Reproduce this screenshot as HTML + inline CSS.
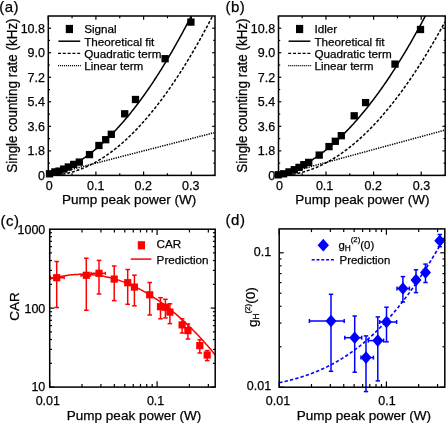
<!DOCTYPE html>
<html><head><meta charset="utf-8"><style>
html,body{margin:0;padding:0;background:#fff;}
svg{display:block;}
text{font-family:"Liberation Sans", sans-serif;fill:#000;stroke:#000;stroke-width:0.25px;}
</style></head><body>
<svg width="446" height="423" viewBox="0 0 446 423">
<defs><filter id="soft" x="-5%" y="-5%" width="110%" height="110%"><feGaussianBlur stdDeviation="0.25"/></filter></defs>
<rect x="0" y="0" width="446" height="423" fill="#fff"/>
<g filter="url(#soft)">
<clipPath id="clipA"><rect x="48.3" y="16.0" width="166.7" height="159.4"/></clipPath>
<path d="M48.20,175.40 L49.04,175.18 L49.88,174.97 L50.72,174.75 L51.56,174.54 L52.39,174.32 L53.23,174.11 L54.07,173.89 L54.91,173.67 L55.75,173.46 L56.59,173.24 L57.43,173.03 L58.27,172.81 L59.11,172.60 L59.95,172.38 L60.78,172.16 L61.62,171.95 L62.46,171.73 L63.30,171.52 L64.14,171.30 L64.98,171.08 L65.82,170.87 L66.66,170.65 L67.50,170.44 L68.33,170.22 L69.17,170.01 L70.01,169.79 L70.85,169.57 L71.69,169.36 L72.53,169.14 L73.37,168.93 L74.21,168.71 L75.05,168.50 L75.89,168.28 L76.72,168.06 L77.56,167.85 L78.40,167.63 L79.24,167.42 L80.08,167.20 L80.92,166.99 L81.76,166.77 L82.60,166.55 L83.44,166.34 L84.27,166.12 L85.11,165.91 L85.95,165.69 L86.79,165.48 L87.63,165.26 L88.47,165.04 L89.31,164.83 L90.15,164.61 L90.99,164.40 L91.83,164.18 L92.66,163.97 L93.50,163.75 L94.34,163.53 L95.18,163.32 L96.02,163.10 L96.86,162.89 L97.70,162.67 L98.54,162.45 L99.38,162.24 L100.21,162.02 L101.05,161.81 L101.89,161.59 L102.73,161.38 L103.57,161.16 L104.41,160.94 L105.25,160.73 L106.09,160.51 L106.93,160.30 L107.77,160.08 L108.60,159.87 L109.44,159.65 L110.28,159.43 L111.12,159.22 L111.96,159.00 L112.80,158.79 L113.64,158.57 L114.48,158.36 L115.32,158.14 L116.15,157.92 L116.99,157.71 L117.83,157.49 L118.67,157.28 L119.51,157.06 L120.35,156.85 L121.19,156.63 L122.03,156.41 L122.87,156.20 L123.71,155.98 L124.54,155.77 L125.38,155.55 L126.22,155.34 L127.06,155.12 L127.90,154.90 L128.74,154.69 L129.58,154.47 L130.42,154.26 L131.26,154.04 L132.09,153.82 L132.93,153.61 L133.77,153.39 L134.61,153.18 L135.45,152.96 L136.29,152.75 L137.13,152.53 L137.97,152.31 L138.81,152.10 L139.64,151.88 L140.48,151.67 L141.32,151.45 L142.16,151.24 L143.00,151.02 L143.84,150.80 L144.68,150.59 L145.52,150.37 L146.36,150.16 L147.20,149.94 L148.03,149.73 L148.87,149.51 L149.71,149.29 L150.55,149.08 L151.39,148.86 L152.23,148.65 L153.07,148.43 L153.91,148.22 L154.75,148.00 L155.58,147.78 L156.42,147.57 L157.26,147.35 L158.10,147.14 L158.94,146.92 L159.78,146.71 L160.62,146.49 L161.46,146.27 L162.30,146.06 L163.14,145.84 L163.97,145.63 L164.81,145.41 L165.65,145.19 L166.49,144.98 L167.33,144.76 L168.17,144.55 L169.01,144.33 L169.85,144.12 L170.69,143.90 L171.52,143.68 L172.36,143.47 L173.20,143.25 L174.04,143.04 L174.88,142.82 L175.72,142.61 L176.56,142.39 L177.40,142.17 L178.24,141.96 L179.08,141.74 L179.91,141.53 L180.75,141.31 L181.59,141.10 L182.43,140.88 L183.27,140.66 L184.11,140.45 L184.95,140.23 L185.79,140.02 L186.63,139.80 L187.46,139.59 L188.30,139.37 L189.14,139.15 L189.98,138.94 L190.82,138.72 L191.66,138.51 L192.50,138.29 L193.34,138.08 L194.18,137.86 L195.02,137.64 L195.85,137.43 L196.69,137.21 L197.53,137.00 L198.37,136.78 L199.21,136.56 L200.05,136.35 L200.89,136.13 L201.73,135.92 L202.57,135.70 L203.40,135.49 L204.24,135.27 L205.08,135.05 L205.92,134.84 L206.76,134.62 L207.60,134.41 L208.44,134.19 L209.28,133.98 L210.12,133.76 L210.96,133.54 L211.79,133.33 L212.63,133.11 L213.47,132.90 L214.31,132.68 L215.15,132.47" fill="none" stroke="#000" stroke-width="1.5" stroke-dasharray="1.3 1.1" clip-path="url(#clipA)"/>
<path d="M48.20,175.40 L49.04,175.40 L49.88,175.38 L50.72,175.36 L51.56,175.33 L52.39,175.30 L53.23,175.25 L54.07,175.20 L54.91,175.13 L55.75,175.06 L56.59,174.98 L57.43,174.90 L58.27,174.80 L59.11,174.70 L59.95,174.59 L60.78,174.47 L61.62,174.34 L62.46,174.20 L63.30,174.05 L64.14,173.90 L64.98,173.74 L65.82,173.57 L66.66,173.39 L67.50,173.20 L68.33,173.01 L69.17,172.80 L70.01,172.59 L70.85,172.37 L71.69,172.14 L72.53,171.91 L73.37,171.66 L74.21,171.41 L75.05,171.15 L75.89,170.88 L76.72,170.60 L77.56,170.31 L78.40,170.02 L79.24,169.71 L80.08,169.40 L80.92,169.08 L81.76,168.76 L82.60,168.42 L83.44,168.07 L84.27,167.72 L85.11,167.36 L85.95,166.99 L86.79,166.61 L87.63,166.23 L88.47,165.83 L89.31,165.43 L90.15,165.02 L90.99,164.60 L91.83,164.17 L92.66,163.73 L93.50,163.29 L94.34,162.84 L95.18,162.38 L96.02,161.91 L96.86,161.43 L97.70,160.94 L98.54,160.45 L99.38,159.95 L100.21,159.44 L101.05,158.92 L101.89,158.39 L102.73,157.85 L103.57,157.31 L104.41,156.76 L105.25,156.20 L106.09,155.63 L106.93,155.05 L107.77,154.46 L108.60,153.87 L109.44,153.27 L110.28,152.66 L111.12,152.04 L111.96,151.41 L112.80,150.78 L113.64,150.13 L114.48,149.48 L115.32,148.82 L116.15,148.15 L116.99,147.48 L117.83,146.79 L118.67,146.10 L119.51,145.39 L120.35,144.68 L121.19,143.97 L122.03,143.24 L122.87,142.50 L123.71,141.76 L124.54,141.01 L125.38,140.25 L126.22,139.48 L127.06,138.70 L127.90,137.92 L128.74,137.13 L129.58,136.32 L130.42,135.51 L131.26,134.70 L132.09,133.87 L132.93,133.04 L133.77,132.19 L134.61,131.34 L135.45,130.48 L136.29,129.61 L137.13,128.74 L137.97,127.85 L138.81,126.96 L139.64,126.06 L140.48,125.15 L141.32,124.23 L142.16,123.30 L143.00,122.37 L143.84,121.43 L144.68,120.48 L145.52,119.52 L146.36,118.55 L147.20,117.57 L148.03,116.59 L148.87,115.60 L149.71,114.60 L150.55,113.59 L151.39,112.57 L152.23,111.54 L153.07,110.51 L153.91,109.47 L154.75,108.42 L155.58,107.36 L156.42,106.29 L157.26,105.21 L158.10,104.13 L158.94,103.04 L159.78,101.94 L160.62,100.83 L161.46,99.71 L162.30,98.59 L163.14,97.45 L163.97,96.31 L164.81,95.16 L165.65,94.00 L166.49,92.83 L167.33,91.66 L168.17,90.48 L169.01,89.28 L169.85,88.08 L170.69,86.87 L171.52,85.66 L172.36,84.43 L173.20,83.20 L174.04,81.96 L174.88,80.71 L175.72,79.45 L176.56,78.18 L177.40,76.91 L178.24,75.62 L179.08,74.33 L179.91,73.03 L180.75,71.72 L181.59,70.41 L182.43,69.08 L183.27,67.75 L184.11,66.41 L184.95,65.06 L185.79,63.70 L186.63,62.33 L187.46,60.96 L188.30,59.58 L189.14,58.19 L189.98,56.79 L190.82,55.38 L191.66,53.96 L192.50,52.54 L193.34,51.10 L194.18,49.66 L195.02,48.21 L195.85,46.76 L196.69,45.29 L197.53,43.82 L198.37,42.33 L199.21,40.84 L200.05,39.34 L200.89,37.84 L201.73,36.32 L202.57,34.80 L203.40,33.26 L204.24,31.72 L205.08,30.17 L205.92,28.62 L206.76,27.05 L207.60,25.48 L208.44,23.89 L209.28,22.30 L210.12,20.70 L210.96,19.10 L211.79,17.48 L212.63,15.86 L213.47,14.23 L214.31,12.59 L215.15,10.94" fill="none" stroke="#000" stroke-width="1.5" stroke-dasharray="3 1.8" clip-path="url(#clipA)"/>
<path d="M48.20,175.40 L49.04,175.17 L49.88,174.92 L50.72,174.67 L51.56,174.41 L52.39,174.15 L53.23,173.87 L54.07,173.59 L54.91,173.29 L55.75,172.99 L56.59,172.69 L57.43,172.37 L58.27,172.04 L59.11,171.71 L59.95,171.37 L60.78,171.02 L61.62,170.66 L62.46,170.29 L63.30,169.92 L64.14,169.54 L64.98,169.14 L65.82,168.74 L66.66,168.34 L67.50,167.92 L68.33,167.50 L69.17,167.06 L70.01,166.62 L70.85,166.17 L71.69,165.72 L72.53,165.25 L73.37,164.78 L74.21,164.30 L75.05,163.80 L75.89,163.31 L76.72,162.80 L77.56,162.28 L78.40,161.76 L79.24,161.23 L80.08,160.69 L80.92,160.14 L81.76,159.58 L82.60,159.02 L83.44,158.45 L84.27,157.86 L85.11,157.27 L85.95,156.68 L86.79,156.07 L87.63,155.46 L88.47,154.83 L89.31,154.20 L90.15,153.56 L90.99,152.92 L91.83,152.26 L92.66,151.60 L93.50,150.92 L94.34,150.24 L95.18,149.55 L96.02,148.86 L96.86,148.15 L97.70,147.44 L98.54,146.72 L99.38,145.99 L100.21,145.25 L101.05,144.50 L101.89,143.75 L102.73,142.98 L103.57,142.21 L104.41,141.43 L105.25,140.64 L106.09,139.85 L106.93,139.04 L107.77,138.23 L108.60,137.41 L109.44,136.58 L110.28,135.74 L111.12,134.90 L111.96,134.04 L112.80,133.18 L113.64,132.31 L114.48,131.43 L115.32,130.54 L116.15,129.65 L116.99,128.75 L117.83,127.83 L118.67,126.91 L119.51,125.99 L120.35,125.05 L121.19,124.10 L122.03,123.15 L122.87,122.19 L123.71,121.22 L124.54,120.24 L125.38,119.26 L126.22,118.26 L127.06,117.26 L127.90,116.25 L128.74,115.23 L129.58,114.20 L130.42,113.16 L131.26,112.12 L132.09,111.07 L132.93,110.01 L133.77,108.94 L134.61,107.86 L135.45,106.78 L136.29,105.68 L137.13,104.58 L137.97,103.47 L138.81,102.35 L139.64,101.22 L140.48,100.09 L141.32,98.95 L142.16,97.79 L143.00,96.63 L143.84,95.47 L144.68,94.29 L145.52,93.11 L146.36,91.91 L147.20,90.71 L148.03,89.50 L148.87,88.28 L149.71,87.06 L150.55,85.82 L151.39,84.58 L152.23,83.33 L153.07,82.07 L153.91,80.80 L154.75,79.53 L155.58,78.25 L156.42,76.95 L157.26,75.65 L158.10,74.34 L158.94,73.03 L159.78,71.70 L160.62,70.37 L161.46,69.03 L162.30,67.68 L163.14,66.32 L163.97,64.95 L164.81,63.58 L165.65,62.20 L166.49,60.80 L167.33,59.40 L168.17,58.00 L169.01,56.58 L169.85,55.16 L170.69,53.72 L171.52,52.28 L172.36,50.83 L173.20,49.38 L174.04,47.91 L174.88,46.44 L175.72,44.96 L176.56,43.47 L177.40,41.97 L178.24,40.46 L179.08,38.94 L179.91,37.42 L180.75,35.89 L181.59,34.35 L182.43,32.80 L183.27,31.24 L184.11,29.68 L184.95,28.11 L185.79,26.53 L186.63,24.94 L187.46,23.34 L188.30,21.73 L189.14,20.12 L189.98,18.50 L190.82,16.86 L191.66,15.23 L192.50,13.58 L193.34,11.92 L194.18,10.26 L195.02,8.59 L195.85,6.91 L196.69,5.22 L197.53,3.52 L198.37,1.82 L199.21,0.10 L200.05,-1.62 L200.89,-3.35 L201.73,-5.09 L202.57,-6.84 L203.40,-8.59 L204.24,-10.35 L205.08,-12.12 L205.92,-13.90 L206.76,-15.69 L207.60,-17.49 L208.44,-19.29 L209.28,-21.10 L210.12,-22.93 L210.96,-24.76 L211.79,-26.59 L212.63,-28.44 L213.47,-30.29 L214.31,-32.15 L215.15,-34.02" fill="none" stroke="#000" stroke-width="1.5"  clip-path="url(#clipA)"/>
<rect x="48.3" y="16.0" width="166.7" height="159.4" fill="none" stroke="#000" stroke-width="1.5"/>
<line x1="48.20" y1="175.40" x2="48.20" y2="171.60" stroke="#000" stroke-width="1.2" />
<line x1="48.20" y1="16.00" x2="48.20" y2="19.80" stroke="#000" stroke-width="1.2" />
<text x="49.30" y="190.40" font-size="12.5" text-anchor="middle" >0</text>
<line x1="72.05" y1="175.40" x2="72.05" y2="173.20" stroke="#000" stroke-width="1.2" />
<line x1="72.05" y1="16.00" x2="72.05" y2="18.20" stroke="#000" stroke-width="1.2" />
<line x1="95.90" y1="175.40" x2="95.90" y2="171.60" stroke="#000" stroke-width="1.2" />
<line x1="95.90" y1="16.00" x2="95.90" y2="19.80" stroke="#000" stroke-width="1.2" />
<text x="95.80" y="190.40" font-size="12.5" text-anchor="middle" >0.1</text>
<line x1="119.75" y1="175.40" x2="119.75" y2="173.20" stroke="#000" stroke-width="1.2" />
<line x1="119.75" y1="16.00" x2="119.75" y2="18.20" stroke="#000" stroke-width="1.2" />
<line x1="143.60" y1="175.40" x2="143.60" y2="171.60" stroke="#000" stroke-width="1.2" />
<line x1="143.60" y1="16.00" x2="143.60" y2="19.80" stroke="#000" stroke-width="1.2" />
<text x="143.30" y="190.40" font-size="12.5" text-anchor="middle" >0.2</text>
<line x1="167.45" y1="175.40" x2="167.45" y2="173.20" stroke="#000" stroke-width="1.2" />
<line x1="167.45" y1="16.00" x2="167.45" y2="18.20" stroke="#000" stroke-width="1.2" />
<line x1="191.30" y1="175.40" x2="191.30" y2="171.60" stroke="#000" stroke-width="1.2" />
<line x1="191.30" y1="16.00" x2="191.30" y2="19.80" stroke="#000" stroke-width="1.2" />
<text x="190.80" y="190.40" font-size="12.5" text-anchor="middle" >0.3</text>
<line x1="48.30" y1="175.40" x2="51.10" y2="175.40" stroke="#000" stroke-width="1.2" />
<line x1="215.00" y1="175.40" x2="212.20" y2="175.40" stroke="#000" stroke-width="1.2" />
<text x="45.00" y="179.70" font-size="12.5" text-anchor="end" >0</text>
<line x1="48.30" y1="163.13" x2="50.00" y2="163.13" stroke="#000" stroke-width="1.2" />
<line x1="215.00" y1="163.13" x2="213.30" y2="163.13" stroke="#000" stroke-width="1.2" />
<line x1="48.30" y1="150.87" x2="51.10" y2="150.87" stroke="#000" stroke-width="1.2" />
<line x1="215.00" y1="150.87" x2="212.20" y2="150.87" stroke="#000" stroke-width="1.2" />
<text x="45.00" y="155.17" font-size="12.5" text-anchor="end" >1.8</text>
<line x1="48.30" y1="138.60" x2="50.00" y2="138.60" stroke="#000" stroke-width="1.2" />
<line x1="215.00" y1="138.60" x2="213.30" y2="138.60" stroke="#000" stroke-width="1.2" />
<line x1="48.30" y1="126.33" x2="51.10" y2="126.33" stroke="#000" stroke-width="1.2" />
<line x1="215.00" y1="126.33" x2="212.20" y2="126.33" stroke="#000" stroke-width="1.2" />
<text x="45.00" y="130.63" font-size="12.5" text-anchor="end" >3.6</text>
<line x1="48.30" y1="114.06" x2="50.00" y2="114.06" stroke="#000" stroke-width="1.2" />
<line x1="215.00" y1="114.06" x2="213.30" y2="114.06" stroke="#000" stroke-width="1.2" />
<line x1="48.30" y1="101.80" x2="51.10" y2="101.80" stroke="#000" stroke-width="1.2" />
<line x1="215.00" y1="101.80" x2="212.20" y2="101.80" stroke="#000" stroke-width="1.2" />
<text x="45.00" y="106.10" font-size="12.5" text-anchor="end" >5.4</text>
<line x1="48.30" y1="89.53" x2="50.00" y2="89.53" stroke="#000" stroke-width="1.2" />
<line x1="215.00" y1="89.53" x2="213.30" y2="89.53" stroke="#000" stroke-width="1.2" />
<line x1="48.30" y1="77.26" x2="51.10" y2="77.26" stroke="#000" stroke-width="1.2" />
<line x1="215.00" y1="77.26" x2="212.20" y2="77.26" stroke="#000" stroke-width="1.2" />
<text x="45.00" y="81.56" font-size="12.5" text-anchor="end" >7.2</text>
<line x1="48.30" y1="65.00" x2="50.00" y2="65.00" stroke="#000" stroke-width="1.2" />
<line x1="215.00" y1="65.00" x2="213.30" y2="65.00" stroke="#000" stroke-width="1.2" />
<line x1="48.30" y1="52.73" x2="51.10" y2="52.73" stroke="#000" stroke-width="1.2" />
<line x1="215.00" y1="52.73" x2="212.20" y2="52.73" stroke="#000" stroke-width="1.2" />
<text x="45.00" y="57.03" font-size="12.5" text-anchor="end" >9.0</text>
<line x1="48.30" y1="40.46" x2="50.00" y2="40.46" stroke="#000" stroke-width="1.2" />
<line x1="215.00" y1="40.46" x2="213.30" y2="40.46" stroke="#000" stroke-width="1.2" />
<line x1="48.30" y1="28.20" x2="51.10" y2="28.20" stroke="#000" stroke-width="1.2" />
<line x1="215.00" y1="28.20" x2="212.20" y2="28.20" stroke="#000" stroke-width="1.2" />
<text x="45.00" y="32.50" font-size="12.5" text-anchor="end" >10.8</text>
<rect x="187.25" y="18.45" width="7.3" height="7.3" fill="#000"/>
<rect x="161.45" y="55.05" width="7.3" height="7.3" fill="#000"/>
<rect x="131.85" y="95.85" width="7.3" height="7.3" fill="#000"/>
<rect x="121.05" y="110.15" width="7.3" height="7.3" fill="#000"/>
<rect x="107.65" y="130.65" width="7.3" height="7.3" fill="#000"/>
<rect x="102.05" y="136.05" width="7.3" height="7.3" fill="#000"/>
<rect x="95.25" y="141.85" width="7.3" height="7.3" fill="#000"/>
<rect x="85.85" y="150.95" width="7.3" height="7.3" fill="#000"/>
<rect x="75.65" y="158.45" width="7.3" height="7.3" fill="#000"/>
<rect x="70.05" y="160.75" width="7.3" height="7.3" fill="#000"/>
<rect x="64.65" y="163.35" width="7.3" height="7.3" fill="#000"/>
<rect x="60.05" y="165.45" width="7.3" height="7.3" fill="#000"/>
<rect x="55.35" y="167.45" width="7.3" height="7.3" fill="#000"/>
<rect x="51.25" y="168.25" width="7.3" height="7.3" fill="#000"/>
<rect x="45.85" y="170.15" width="7.3" height="7.3" fill="#000"/>
<rect x="65.80" y="24.9" width="7.2" height="8.2" fill="#000"/>
<line x1="58.40" y1="41.20" x2="80.20" y2="41.20" stroke="#000" stroke-width="1.5" />
<line x1="58.00" y1="53.40" x2="80.60" y2="53.40" stroke="#000" stroke-width="1.4" stroke-dasharray="3 1.8"/>
<line x1="58.00" y1="65.60" x2="80.90" y2="65.60" stroke="#000" stroke-width="1.4" stroke-dasharray="1.1 0.9"/>
<text x="84.20" y="32.90" font-size="11.7" text-anchor="start" >Signal</text>
<text x="84.20" y="45.50" font-size="11.7" text-anchor="start" >Theoretical fit</text>
<text x="84.20" y="57.60" font-size="11.7" text-anchor="start" >Quadratic term</text>
<text x="84.20" y="69.60" font-size="11.7" text-anchor="start" >Linear term</text>
<text x="129.20" y="204.30" font-size="13.5" text-anchor="middle" >Pump peak power (W)</text>
<text x="0" y="0" font-size="13.5" text-anchor="middle" transform="translate(16.60,95.60) rotate(-90)" textLength="154.3" lengthAdjust="spacingAndGlyphs" style="font-size:14.3px">Single counting rate (kHz)</text>
<clipPath id="clipB"><rect x="278.5" y="16.0" width="166.7" height="159.4"/></clipPath>
<path d="M278.40,175.40 L279.24,175.17 L280.07,174.94 L280.91,174.72 L281.75,174.49 L282.59,174.26 L283.42,174.03 L284.26,173.81 L285.10,173.58 L285.93,173.35 L286.77,173.12 L287.61,172.89 L288.45,172.67 L289.28,172.44 L290.12,172.21 L290.96,171.98 L291.79,171.76 L292.63,171.53 L293.47,171.30 L294.31,171.07 L295.14,170.85 L295.98,170.62 L296.82,170.39 L297.66,170.16 L298.49,169.93 L299.33,169.71 L300.17,169.48 L301.00,169.25 L301.84,169.02 L302.68,168.80 L303.52,168.57 L304.35,168.34 L305.19,168.11 L306.03,167.88 L306.86,167.66 L307.70,167.43 L308.54,167.20 L309.38,166.97 L310.21,166.75 L311.05,166.52 L311.89,166.29 L312.72,166.06 L313.56,165.84 L314.40,165.61 L315.24,165.38 L316.07,165.15 L316.91,164.92 L317.75,164.70 L318.58,164.47 L319.42,164.24 L320.26,164.01 L321.10,163.79 L321.93,163.56 L322.77,163.33 L323.61,163.10 L324.45,162.87 L325.28,162.65 L326.12,162.42 L326.96,162.19 L327.79,161.96 L328.63,161.74 L329.47,161.51 L330.31,161.28 L331.14,161.05 L331.98,160.82 L332.82,160.60 L333.65,160.37 L334.49,160.14 L335.33,159.91 L336.17,159.69 L337.00,159.46 L337.84,159.23 L338.68,159.00 L339.51,158.78 L340.35,158.55 L341.19,158.32 L342.03,158.09 L342.86,157.86 L343.70,157.64 L344.54,157.41 L345.37,157.18 L346.21,156.95 L347.05,156.73 L347.89,156.50 L348.72,156.27 L349.56,156.04 L350.40,155.81 L351.24,155.59 L352.07,155.36 L352.91,155.13 L353.75,154.90 L354.58,154.68 L355.42,154.45 L356.26,154.22 L357.10,153.99 L357.93,153.76 L358.77,153.54 L359.61,153.31 L360.44,153.08 L361.28,152.85 L362.12,152.63 L362.96,152.40 L363.79,152.17 L364.63,151.94 L365.47,151.72 L366.30,151.49 L367.14,151.26 L367.98,151.03 L368.82,150.80 L369.65,150.58 L370.49,150.35 L371.33,150.12 L372.16,149.89 L373.00,149.67 L373.84,149.44 L374.68,149.21 L375.51,148.98 L376.35,148.75 L377.19,148.53 L378.03,148.30 L378.86,148.07 L379.70,147.84 L380.54,147.62 L381.37,147.39 L382.21,147.16 L383.05,146.93 L383.89,146.71 L384.72,146.48 L385.56,146.25 L386.40,146.02 L387.23,145.79 L388.07,145.57 L388.91,145.34 L389.75,145.11 L390.58,144.88 L391.42,144.66 L392.26,144.43 L393.09,144.20 L393.93,143.97 L394.77,143.74 L395.61,143.52 L396.44,143.29 L397.28,143.06 L398.12,142.83 L398.95,142.61 L399.79,142.38 L400.63,142.15 L401.47,141.92 L402.30,141.69 L403.14,141.47 L403.98,141.24 L404.82,141.01 L405.65,140.78 L406.49,140.56 L407.33,140.33 L408.16,140.10 L409.00,139.87 L409.84,139.65 L410.68,139.42 L411.51,139.19 L412.35,138.96 L413.19,138.73 L414.02,138.51 L414.86,138.28 L415.70,138.05 L416.54,137.82 L417.37,137.60 L418.21,137.37 L419.05,137.14 L419.88,136.91 L420.72,136.68 L421.56,136.46 L422.40,136.23 L423.23,136.00 L424.07,135.77 L424.91,135.55 L425.74,135.32 L426.58,135.09 L427.42,134.86 L428.26,134.63 L429.09,134.41 L429.93,134.18 L430.77,133.95 L431.61,133.72 L432.44,133.50 L433.28,133.27 L434.12,133.04 L434.95,132.81 L435.79,132.59 L436.63,132.36 L437.47,132.13 L438.30,131.90 L439.14,131.67 L439.98,131.45 L440.81,131.22 L441.65,130.99 L442.49,130.76 L443.33,130.54 L444.16,130.31 L445.00,130.08" fill="none" stroke="#000" stroke-width="1.5" stroke-dasharray="1.3 1.1" clip-path="url(#clipB)"/>
<path d="M278.40,175.40 L279.24,175.40 L280.07,175.38 L280.91,175.37 L281.75,175.34 L282.59,175.30 L283.42,175.26 L284.26,175.21 L285.10,175.15 L285.93,175.09 L286.77,175.01 L287.61,174.93 L288.45,174.84 L289.28,174.74 L290.12,174.64 L290.96,174.53 L291.79,174.41 L292.63,174.28 L293.47,174.14 L294.31,174.00 L295.14,173.85 L295.98,173.69 L296.82,173.52 L297.66,173.35 L298.49,173.17 L299.33,172.98 L300.17,172.78 L301.00,172.57 L301.84,172.36 L302.68,172.14 L303.52,171.91 L304.35,171.67 L305.19,171.43 L306.03,171.18 L306.86,170.92 L307.70,170.65 L308.54,170.37 L309.38,170.09 L310.21,169.80 L311.05,169.50 L311.89,169.19 L312.72,168.88 L313.56,168.56 L314.40,168.23 L315.24,167.89 L316.07,167.55 L316.91,167.19 L317.75,166.83 L318.58,166.46 L319.42,166.09 L320.26,165.70 L321.10,165.31 L321.93,164.91 L322.77,164.50 L323.61,164.09 L324.45,163.67 L325.28,163.24 L326.12,162.80 L326.96,162.35 L327.79,161.90 L328.63,161.44 L329.47,160.97 L330.31,160.49 L331.14,160.00 L331.98,159.51 L332.82,159.01 L333.65,158.50 L334.49,157.99 L335.33,157.46 L336.17,156.93 L337.00,156.39 L337.84,155.85 L338.68,155.29 L339.51,154.73 L340.35,154.16 L341.19,153.58 L342.03,153.00 L342.86,152.40 L343.70,151.80 L344.54,151.19 L345.37,150.57 L346.21,149.95 L347.05,149.32 L347.89,148.68 L348.72,148.03 L349.56,147.37 L350.40,146.71 L351.24,146.04 L352.07,145.36 L352.91,144.67 L353.75,143.98 L354.58,143.28 L355.42,142.57 L356.26,141.85 L357.10,141.13 L357.93,140.39 L358.77,139.65 L359.61,138.90 L360.44,138.15 L361.28,137.38 L362.12,136.61 L362.96,135.83 L363.79,135.04 L364.63,134.25 L365.47,133.45 L366.30,132.63 L367.14,131.82 L367.98,130.99 L368.82,130.16 L369.65,129.31 L370.49,128.46 L371.33,127.61 L372.16,126.74 L373.00,125.87 L373.84,124.99 L374.68,124.10 L375.51,123.20 L376.35,122.30 L377.19,121.39 L378.03,120.47 L378.86,119.54 L379.70,118.61 L380.54,117.67 L381.37,116.72 L382.21,115.76 L383.05,114.79 L383.89,113.82 L384.72,112.84 L385.56,111.85 L386.40,110.85 L387.23,109.85 L388.07,108.83 L388.91,107.81 L389.75,106.79 L390.58,105.75 L391.42,104.71 L392.26,103.66 L393.09,102.60 L393.93,101.53 L394.77,100.45 L395.61,99.37 L396.44,98.28 L397.28,97.18 L398.12,96.08 L398.95,94.97 L399.79,93.85 L400.63,92.72 L401.47,91.58 L402.30,90.44 L403.14,89.28 L403.98,88.12 L404.82,86.96 L405.65,85.78 L406.49,84.60 L407.33,83.41 L408.16,82.21 L409.00,81.00 L409.84,79.79 L410.68,78.57 L411.51,77.34 L412.35,76.10 L413.19,74.85 L414.02,73.60 L414.86,72.34 L415.70,71.07 L416.54,69.80 L417.37,68.51 L418.21,67.22 L419.05,65.92 L419.88,64.61 L420.72,63.30 L421.56,61.98 L422.40,60.65 L423.23,59.31 L424.07,57.96 L424.91,56.61 L425.74,55.25 L426.58,53.88 L427.42,52.50 L428.26,51.11 L429.09,49.72 L429.93,48.32 L430.77,46.91 L431.61,45.50 L432.44,44.07 L433.28,42.64 L434.12,41.20 L434.95,39.76 L435.79,38.30 L436.63,36.84 L437.47,35.37 L438.30,33.89 L439.14,32.41 L439.98,30.91 L440.81,29.41 L441.65,27.90 L442.49,26.39 L443.33,24.86 L444.16,23.33 L445.00,21.79" fill="none" stroke="#000" stroke-width="1.5" stroke-dasharray="3 1.8" clip-path="url(#clipB)"/>
<path d="M278.40,175.40 L279.24,175.17 L280.07,174.93 L280.91,174.68 L281.75,174.43 L282.59,174.16 L283.42,173.89 L284.26,173.62 L285.10,173.33 L285.93,173.04 L286.77,172.73 L287.61,172.43 L288.45,172.11 L289.28,171.78 L290.12,171.45 L290.96,171.11 L291.79,170.76 L292.63,170.41 L293.47,170.04 L294.31,169.67 L295.14,169.29 L295.98,168.91 L296.82,168.51 L297.66,168.11 L298.49,167.70 L299.33,167.28 L300.17,166.86 L301.00,166.42 L301.84,165.98 L302.68,165.53 L303.52,165.08 L304.35,164.61 L305.19,164.14 L306.03,163.66 L306.86,163.17 L307.70,162.68 L308.54,162.17 L309.38,161.66 L310.21,161.14 L311.05,160.62 L311.89,160.08 L312.72,159.54 L313.56,158.99 L314.40,158.44 L315.24,157.87 L316.07,157.30 L316.91,156.72 L317.75,156.13 L318.58,155.53 L319.42,154.93 L320.26,154.32 L321.10,153.70 L321.93,153.07 L322.77,152.43 L323.61,151.79 L324.45,151.14 L325.28,150.48 L326.12,149.82 L326.96,149.14 L327.79,148.46 L328.63,147.77 L329.47,147.07 L330.31,146.37 L331.14,145.66 L331.98,144.94 L332.82,144.21 L333.65,143.47 L334.49,142.73 L335.33,141.98 L336.17,141.22 L337.00,140.45 L337.84,139.68 L338.68,138.89 L339.51,138.10 L340.35,137.31 L341.19,136.50 L342.03,135.69 L342.86,134.87 L343.70,134.04 L344.54,133.20 L345.37,132.36 L346.21,131.50 L347.05,130.64 L347.89,129.78 L348.72,128.90 L349.56,128.02 L350.40,127.13 L351.24,126.23 L352.07,125.32 L352.91,124.41 L353.75,123.48 L354.58,122.55 L355.42,121.62 L356.26,120.67 L357.10,119.72 L357.93,118.76 L358.77,117.79 L359.61,116.81 L360.44,115.83 L361.28,114.84 L362.12,113.84 L362.96,112.83 L363.79,111.81 L364.63,110.79 L365.47,109.76 L366.30,108.72 L367.14,107.68 L367.98,106.62 L368.82,105.56 L369.65,104.49 L370.49,103.41 L371.33,102.33 L372.16,101.24 L373.00,100.14 L373.84,99.03 L374.68,97.91 L375.51,96.79 L376.35,95.66 L377.19,94.52 L378.03,93.37 L378.86,92.21 L379.70,91.05 L380.54,89.88 L381.37,88.70 L382.21,87.52 L383.05,86.32 L383.89,85.12 L384.72,83.91 L385.56,82.70 L386.40,81.47 L387.23,80.24 L388.07,79.00 L388.91,77.75 L389.75,76.50 L390.58,75.23 L391.42,73.96 L392.26,72.68 L393.09,71.40 L393.93,70.10 L394.77,68.80 L395.61,67.49 L396.44,66.17 L397.28,64.85 L398.12,63.51 L398.95,62.17 L399.79,60.82 L400.63,59.47 L401.47,58.10 L402.30,56.73 L403.14,55.35 L403.98,53.96 L404.82,52.57 L405.65,51.16 L406.49,49.75 L407.33,48.34 L408.16,46.91 L409.00,45.47 L409.84,44.03 L410.68,42.58 L411.51,41.13 L412.35,39.66 L413.19,38.19 L414.02,36.71 L414.86,35.22 L415.70,33.72 L416.54,32.22 L417.37,30.71 L418.21,29.19 L419.05,27.66 L419.88,26.13 L420.72,24.58 L421.56,23.03 L422.40,21.47 L423.23,19.91 L424.07,18.33 L424.91,16.75 L425.74,15.16 L426.58,13.57 L427.42,11.96 L428.26,10.35 L429.09,8.73 L429.93,7.10 L430.77,5.47 L431.61,3.82 L432.44,2.17 L433.28,0.51 L434.12,-1.16 L434.95,-2.83 L435.79,-4.51 L436.63,-6.20 L437.47,-7.90 L438.30,-9.61 L439.14,-11.32 L439.98,-13.04 L440.81,-14.77 L441.65,-16.51 L442.49,-18.25 L443.33,-20.00 L444.16,-21.76 L445.00,-23.53" fill="none" stroke="#000" stroke-width="1.5"  clip-path="url(#clipB)"/>
<rect x="278.5" y="16.0" width="166.7" height="159.4" fill="none" stroke="#000" stroke-width="1.5"/>
<line x1="278.40" y1="175.40" x2="278.40" y2="171.60" stroke="#000" stroke-width="1.2" />
<line x1="278.40" y1="16.00" x2="278.40" y2="19.80" stroke="#000" stroke-width="1.2" />
<text x="279.60" y="190.40" font-size="12.5" text-anchor="middle" >0</text>
<line x1="302.20" y1="175.40" x2="302.20" y2="173.20" stroke="#000" stroke-width="1.2" />
<line x1="302.20" y1="16.00" x2="302.20" y2="18.20" stroke="#000" stroke-width="1.2" />
<line x1="326.00" y1="175.40" x2="326.00" y2="171.60" stroke="#000" stroke-width="1.2" />
<line x1="326.00" y1="16.00" x2="326.00" y2="19.80" stroke="#000" stroke-width="1.2" />
<text x="324.60" y="190.40" font-size="12.5" text-anchor="middle" >0.1</text>
<line x1="349.80" y1="175.40" x2="349.80" y2="173.20" stroke="#000" stroke-width="1.2" />
<line x1="349.80" y1="16.00" x2="349.80" y2="18.20" stroke="#000" stroke-width="1.2" />
<line x1="373.60" y1="175.40" x2="373.60" y2="171.60" stroke="#000" stroke-width="1.2" />
<line x1="373.60" y1="16.00" x2="373.60" y2="19.80" stroke="#000" stroke-width="1.2" />
<text x="373.30" y="190.40" font-size="12.5" text-anchor="middle" >0.2</text>
<line x1="397.40" y1="175.40" x2="397.40" y2="173.20" stroke="#000" stroke-width="1.2" />
<line x1="397.40" y1="16.00" x2="397.40" y2="18.20" stroke="#000" stroke-width="1.2" />
<line x1="421.20" y1="175.40" x2="421.20" y2="171.60" stroke="#000" stroke-width="1.2" />
<line x1="421.20" y1="16.00" x2="421.20" y2="19.80" stroke="#000" stroke-width="1.2" />
<text x="421.40" y="190.40" font-size="12.5" text-anchor="middle" >0.3</text>
<line x1="278.50" y1="175.40" x2="281.30" y2="175.40" stroke="#000" stroke-width="1.2" />
<line x1="445.20" y1="175.40" x2="442.40" y2="175.40" stroke="#000" stroke-width="1.2" />
<text x="275.20" y="179.70" font-size="12.5" text-anchor="end" >0</text>
<line x1="278.50" y1="163.13" x2="280.20" y2="163.13" stroke="#000" stroke-width="1.2" />
<line x1="445.20" y1="163.13" x2="443.50" y2="163.13" stroke="#000" stroke-width="1.2" />
<line x1="278.50" y1="150.87" x2="281.30" y2="150.87" stroke="#000" stroke-width="1.2" />
<line x1="445.20" y1="150.87" x2="442.40" y2="150.87" stroke="#000" stroke-width="1.2" />
<text x="275.20" y="155.17" font-size="12.5" text-anchor="end" >1.8</text>
<line x1="278.50" y1="138.60" x2="280.20" y2="138.60" stroke="#000" stroke-width="1.2" />
<line x1="445.20" y1="138.60" x2="443.50" y2="138.60" stroke="#000" stroke-width="1.2" />
<line x1="278.50" y1="126.33" x2="281.30" y2="126.33" stroke="#000" stroke-width="1.2" />
<line x1="445.20" y1="126.33" x2="442.40" y2="126.33" stroke="#000" stroke-width="1.2" />
<text x="275.20" y="130.63" font-size="12.5" text-anchor="end" >3.6</text>
<line x1="278.50" y1="114.06" x2="280.20" y2="114.06" stroke="#000" stroke-width="1.2" />
<line x1="445.20" y1="114.06" x2="443.50" y2="114.06" stroke="#000" stroke-width="1.2" />
<line x1="278.50" y1="101.80" x2="281.30" y2="101.80" stroke="#000" stroke-width="1.2" />
<line x1="445.20" y1="101.80" x2="442.40" y2="101.80" stroke="#000" stroke-width="1.2" />
<text x="275.20" y="106.10" font-size="12.5" text-anchor="end" >5.4</text>
<line x1="278.50" y1="89.53" x2="280.20" y2="89.53" stroke="#000" stroke-width="1.2" />
<line x1="445.20" y1="89.53" x2="443.50" y2="89.53" stroke="#000" stroke-width="1.2" />
<line x1="278.50" y1="77.26" x2="281.30" y2="77.26" stroke="#000" stroke-width="1.2" />
<line x1="445.20" y1="77.26" x2="442.40" y2="77.26" stroke="#000" stroke-width="1.2" />
<text x="275.20" y="81.56" font-size="12.5" text-anchor="end" >7.2</text>
<line x1="278.50" y1="65.00" x2="280.20" y2="65.00" stroke="#000" stroke-width="1.2" />
<line x1="445.20" y1="65.00" x2="443.50" y2="65.00" stroke="#000" stroke-width="1.2" />
<line x1="278.50" y1="52.73" x2="281.30" y2="52.73" stroke="#000" stroke-width="1.2" />
<line x1="445.20" y1="52.73" x2="442.40" y2="52.73" stroke="#000" stroke-width="1.2" />
<text x="275.20" y="57.03" font-size="12.5" text-anchor="end" >9.0</text>
<line x1="278.50" y1="40.46" x2="280.20" y2="40.46" stroke="#000" stroke-width="1.2" />
<line x1="445.20" y1="40.46" x2="443.50" y2="40.46" stroke="#000" stroke-width="1.2" />
<line x1="278.50" y1="28.20" x2="281.30" y2="28.20" stroke="#000" stroke-width="1.2" />
<line x1="445.20" y1="28.20" x2="442.40" y2="28.20" stroke="#000" stroke-width="1.2" />
<text x="275.20" y="32.50" font-size="12.5" text-anchor="end" >10.8</text>
<rect x="416.85" y="25.85" width="7.3" height="7.3" fill="#000"/>
<rect x="391.35" y="60.45" width="7.3" height="7.3" fill="#000"/>
<rect x="361.95" y="98.95" width="7.3" height="7.3" fill="#000"/>
<rect x="350.55" y="112.15" width="7.3" height="7.3" fill="#000"/>
<rect x="337.65" y="132.05" width="7.3" height="7.3" fill="#000"/>
<rect x="331.65" y="137.65" width="7.3" height="7.3" fill="#000"/>
<rect x="325.35" y="142.95" width="7.3" height="7.3" fill="#000"/>
<rect x="315.55" y="151.45" width="7.3" height="7.3" fill="#000"/>
<rect x="305.05" y="158.75" width="7.3" height="7.3" fill="#000"/>
<rect x="300.15" y="161.05" width="7.3" height="7.3" fill="#000"/>
<rect x="295.35" y="163.75" width="7.3" height="7.3" fill="#000"/>
<rect x="290.65" y="166.05" width="7.3" height="7.3" fill="#000"/>
<rect x="285.35" y="168.25" width="7.3" height="7.3" fill="#000"/>
<rect x="279.95" y="170.15" width="7.3" height="7.3" fill="#000"/>
<rect x="274.55" y="171.15" width="7.3" height="7.3" fill="#000"/>
<rect x="296.00" y="24.9" width="7.2" height="8.2" fill="#000"/>
<line x1="288.60" y1="41.20" x2="310.40" y2="41.20" stroke="#000" stroke-width="1.5" />
<line x1="288.20" y1="53.40" x2="310.80" y2="53.40" stroke="#000" stroke-width="1.4" stroke-dasharray="3 1.8"/>
<line x1="288.20" y1="65.60" x2="311.10" y2="65.60" stroke="#000" stroke-width="1.4" stroke-dasharray="1.1 0.9"/>
<text x="314.40" y="32.90" font-size="11.7" text-anchor="start" >Idler</text>
<text x="314.40" y="45.50" font-size="11.7" text-anchor="start" >Theoretical fit</text>
<text x="314.40" y="57.60" font-size="11.7" text-anchor="start" >Quadratic term</text>
<text x="314.40" y="69.60" font-size="11.7" text-anchor="start" >Linear term</text>
<text x="362.40" y="204.00" font-size="13.5" text-anchor="middle" >Pump peak power (W)</text>
<text x="0" y="0" font-size="13.5" text-anchor="middle" transform="translate(246.80,95.60) rotate(-90)" textLength="154.3" lengthAdjust="spacingAndGlyphs" style="font-size:14.3px">Single counting rate (kHz)</text>
<text x="-0.80" y="11.60" font-size="15" text-anchor="start" letter-spacing="0.5">(a)</text>
<text x="225.40" y="11.60" font-size="15" text-anchor="start" letter-spacing="0.5">(b)</text>
<text x="0.40" y="225.80" font-size="15" text-anchor="start" letter-spacing="0.5">(c)</text>
<text x="225.60" y="225.40" font-size="15" text-anchor="start" letter-spacing="0.5">(d)</text>
<clipPath id="clipC"><rect x="49.7" y="229.2" width="165.5" height="157.90000000000003"/></clipPath>
<path d="M49.70,279.19 L51.09,278.79 L52.48,278.40 L53.87,278.02 L55.26,277.67 L56.65,277.33 L58.04,277.01 L59.44,276.71 L60.83,276.42 L62.22,276.16 L63.61,275.91 L65.00,275.68 L66.39,275.46 L67.78,275.27 L69.17,275.09 L70.56,274.93 L71.95,274.78 L73.34,274.66 L74.73,274.55 L76.12,274.46 L77.52,274.38 L78.91,274.33 L80.30,274.29 L81.69,274.27 L83.08,274.27 L84.47,274.29 L85.86,274.32 L87.25,274.37 L88.64,274.44 L90.03,274.52 L91.42,274.63 L92.81,274.75 L94.20,274.89 L95.59,275.04 L96.99,275.22 L98.38,275.41 L99.77,275.62 L101.16,275.85 L102.55,276.09 L103.94,276.36 L105.33,276.64 L106.72,276.93 L108.11,277.25 L109.50,277.58 L110.89,277.93 L112.28,278.30 L113.67,278.69 L115.07,279.09 L116.46,279.52 L117.85,279.96 L119.24,280.41 L120.63,280.89 L122.02,281.38 L123.41,281.89 L124.80,282.42 L126.19,282.97 L127.58,283.53 L128.97,284.11 L130.36,284.71 L131.75,285.33 L133.15,285.96 L134.54,286.61 L135.93,287.28 L137.32,287.97 L138.71,288.68 L140.10,289.40 L141.49,290.14 L142.88,290.90 L144.27,291.68 L145.66,292.47 L147.05,293.28 L148.44,294.11 L149.83,294.96 L151.23,295.82 L152.62,296.71 L154.01,297.61 L155.40,298.52 L156.79,299.46 L158.18,300.41 L159.57,301.39 L160.96,302.38 L162.35,303.38 L163.74,304.41 L165.13,305.45 L166.52,306.51 L167.91,307.59 L169.31,308.68 L170.70,309.80 L172.09,310.93 L173.48,312.08 L174.87,313.25 L176.26,314.43 L177.65,315.63 L179.04,316.85 L180.43,318.09 L181.82,319.35 L183.21,320.62 L184.60,321.91 L185.99,323.22 L187.38,324.55 L188.78,325.89 L190.17,327.26 L191.56,328.64 L192.95,330.04 L194.34,331.45 L195.73,332.89 L197.12,334.34 L198.51,335.81 L199.90,337.29 L201.29,338.80 L202.68,340.32 L204.07,341.86 L205.46,343.42 L206.86,345.00 L208.25,346.59 L209.64,348.20 L211.03,349.83 L212.42,351.48 L213.81,353.15 L215.20,354.83" fill="none" stroke="#f00" stroke-width="1.5"  clip-path="url(#clipC)"/>
<line x1="56.70" y1="261.50" x2="56.70" y2="307.50" stroke="#f00" stroke-width="1.5" />
<line x1="54.40" y1="261.50" x2="59.00" y2="261.50" stroke="#f00" stroke-width="1.5" />
<line x1="54.40" y1="307.50" x2="59.00" y2="307.50" stroke="#f00" stroke-width="1.5" />
<line x1="50.30" y1="277.70" x2="64.20" y2="277.70" stroke="#f00" stroke-width="1.5" />
<line x1="50.30" y1="276.10" x2="50.30" y2="279.30" stroke="#f00" stroke-width="1.3" />
<line x1="64.20" y1="276.10" x2="64.20" y2="279.30" stroke="#f00" stroke-width="1.3" />
<rect x="53.10" y="274.10" width="7.2" height="7.2" fill="#f00"/>
<line x1="86.30" y1="258.20" x2="86.30" y2="310.30" stroke="#f00" stroke-width="1.5" />
<line x1="84.00" y1="258.20" x2="88.60" y2="258.20" stroke="#f00" stroke-width="1.5" />
<line x1="84.00" y1="310.30" x2="88.60" y2="310.30" stroke="#f00" stroke-width="1.5" />
<line x1="81.00" y1="275.30" x2="90.50" y2="275.30" stroke="#f00" stroke-width="1.5" />
<line x1="81.00" y1="273.70" x2="81.00" y2="276.90" stroke="#f00" stroke-width="1.3" />
<line x1="90.50" y1="273.70" x2="90.50" y2="276.90" stroke="#f00" stroke-width="1.3" />
<rect x="82.70" y="271.70" width="7.2" height="7.2" fill="#f00"/>
<line x1="99.00" y1="260.40" x2="99.00" y2="294.00" stroke="#f00" stroke-width="1.5" />
<line x1="96.70" y1="260.40" x2="101.30" y2="260.40" stroke="#f00" stroke-width="1.5" />
<line x1="96.70" y1="294.00" x2="101.30" y2="294.00" stroke="#f00" stroke-width="1.5" />
<line x1="91.00" y1="273.30" x2="105.40" y2="273.30" stroke="#f00" stroke-width="1.5" />
<line x1="91.00" y1="271.70" x2="91.00" y2="274.90" stroke="#f00" stroke-width="1.3" />
<line x1="105.40" y1="271.70" x2="105.40" y2="274.90" stroke="#f00" stroke-width="1.3" />
<rect x="95.40" y="269.70" width="7.2" height="7.2" fill="#f00"/>
<line x1="114.20" y1="266.00" x2="114.20" y2="300.60" stroke="#f00" stroke-width="1.5" />
<line x1="111.90" y1="266.00" x2="116.50" y2="266.00" stroke="#f00" stroke-width="1.5" />
<line x1="111.90" y1="300.60" x2="116.50" y2="300.60" stroke="#f00" stroke-width="1.5" />
<rect x="110.60" y="275.50" width="7.2" height="7.2" fill="#f00"/>
<line x1="127.70" y1="269.50" x2="127.70" y2="304.30" stroke="#f00" stroke-width="1.5" />
<line x1="125.40" y1="269.50" x2="130.00" y2="269.50" stroke="#f00" stroke-width="1.5" />
<line x1="125.40" y1="304.30" x2="130.00" y2="304.30" stroke="#f00" stroke-width="1.5" />
<rect x="124.10" y="279.10" width="7.2" height="7.2" fill="#f00"/>
<line x1="134.40" y1="275.20" x2="134.40" y2="305.80" stroke="#f00" stroke-width="1.5" />
<line x1="132.10" y1="275.20" x2="136.70" y2="275.20" stroke="#f00" stroke-width="1.5" />
<line x1="132.10" y1="305.80" x2="136.70" y2="305.80" stroke="#f00" stroke-width="1.5" />
<rect x="130.80" y="283.50" width="7.2" height="7.2" fill="#f00"/>
<line x1="149.70" y1="282.50" x2="149.70" y2="315.00" stroke="#f00" stroke-width="1.5" />
<line x1="147.40" y1="282.50" x2="152.00" y2="282.50" stroke="#f00" stroke-width="1.5" />
<line x1="147.40" y1="315.00" x2="152.00" y2="315.00" stroke="#f00" stroke-width="1.5" />
<rect x="146.10" y="291.20" width="7.2" height="7.2" fill="#f00"/>
<line x1="160.50" y1="297.70" x2="160.50" y2="318.80" stroke="#f00" stroke-width="1.5" />
<line x1="158.20" y1="297.70" x2="162.80" y2="297.70" stroke="#f00" stroke-width="1.5" />
<line x1="158.20" y1="318.80" x2="162.80" y2="318.80" stroke="#f00" stroke-width="1.5" />
<rect x="156.90" y="303.10" width="7.2" height="7.2" fill="#f00"/>
<line x1="165.40" y1="299.30" x2="165.40" y2="317.90" stroke="#f00" stroke-width="1.5" />
<line x1="163.10" y1="299.30" x2="167.70" y2="299.30" stroke="#f00" stroke-width="1.5" />
<line x1="163.10" y1="317.90" x2="167.70" y2="317.90" stroke="#f00" stroke-width="1.5" />
<rect x="161.80" y="303.60" width="7.2" height="7.2" fill="#f00"/>
<line x1="169.90" y1="303.80" x2="169.90" y2="323.60" stroke="#f00" stroke-width="1.5" />
<line x1="167.60" y1="303.80" x2="172.20" y2="303.80" stroke="#f00" stroke-width="1.5" />
<line x1="167.60" y1="323.60" x2="172.20" y2="323.60" stroke="#f00" stroke-width="1.5" />
<rect x="166.30" y="308.50" width="7.2" height="7.2" fill="#f00"/>
<line x1="182.10" y1="318.80" x2="182.10" y2="333.00" stroke="#f00" stroke-width="1.5" />
<line x1="179.80" y1="318.80" x2="184.40" y2="318.80" stroke="#f00" stroke-width="1.5" />
<line x1="179.80" y1="333.00" x2="184.40" y2="333.00" stroke="#f00" stroke-width="1.5" />
<rect x="178.50" y="321.30" width="7.2" height="7.2" fill="#f00"/>
<line x1="187.90" y1="324.00" x2="187.90" y2="339.00" stroke="#f00" stroke-width="1.5" />
<line x1="185.60" y1="324.00" x2="190.20" y2="324.00" stroke="#f00" stroke-width="1.5" />
<line x1="185.60" y1="339.00" x2="190.20" y2="339.00" stroke="#f00" stroke-width="1.5" />
<rect x="184.30" y="327.00" width="7.2" height="7.2" fill="#f00"/>
<line x1="199.80" y1="339.80" x2="199.80" y2="353.00" stroke="#f00" stroke-width="1.5" />
<line x1="197.50" y1="339.80" x2="202.10" y2="339.80" stroke="#f00" stroke-width="1.5" />
<line x1="197.50" y1="353.00" x2="202.10" y2="353.00" stroke="#f00" stroke-width="1.5" />
<rect x="196.20" y="342.00" width="7.2" height="7.2" fill="#f00"/>
<line x1="207.20" y1="350.60" x2="207.20" y2="360.60" stroke="#f00" stroke-width="1.5" />
<line x1="204.90" y1="350.60" x2="209.50" y2="350.60" stroke="#f00" stroke-width="1.5" />
<line x1="204.90" y1="360.60" x2="209.50" y2="360.60" stroke="#f00" stroke-width="1.5" />
<rect x="203.60" y="351.40" width="7.2" height="7.2" fill="#f00"/>
<rect x="49.7" y="229.2" width="165.5" height="157.90000000000003" fill="none" stroke="#000" stroke-width="1.5"/>
<line x1="49.70" y1="387.10" x2="49.70" y2="381.30" stroke="#000" stroke-width="1.2" />
<line x1="49.70" y1="229.20" x2="49.70" y2="235.00" stroke="#000" stroke-width="1.2" />
<line x1="82.03" y1="387.10" x2="82.03" y2="383.90" stroke="#000" stroke-width="1.2" />
<line x1="82.03" y1="229.20" x2="82.03" y2="232.40" stroke="#000" stroke-width="1.2" />
<line x1="100.94" y1="387.10" x2="100.94" y2="383.90" stroke="#000" stroke-width="1.2" />
<line x1="100.94" y1="229.20" x2="100.94" y2="232.40" stroke="#000" stroke-width="1.2" />
<line x1="114.36" y1="387.10" x2="114.36" y2="383.90" stroke="#000" stroke-width="1.2" />
<line x1="114.36" y1="229.20" x2="114.36" y2="232.40" stroke="#000" stroke-width="1.2" />
<line x1="124.77" y1="387.10" x2="124.77" y2="383.90" stroke="#000" stroke-width="1.2" />
<line x1="124.77" y1="229.20" x2="124.77" y2="232.40" stroke="#000" stroke-width="1.2" />
<line x1="133.27" y1="387.10" x2="133.27" y2="383.90" stroke="#000" stroke-width="1.2" />
<line x1="133.27" y1="229.20" x2="133.27" y2="232.40" stroke="#000" stroke-width="1.2" />
<line x1="140.46" y1="387.10" x2="140.46" y2="383.90" stroke="#000" stroke-width="1.2" />
<line x1="140.46" y1="229.20" x2="140.46" y2="232.40" stroke="#000" stroke-width="1.2" />
<line x1="146.69" y1="387.10" x2="146.69" y2="383.90" stroke="#000" stroke-width="1.2" />
<line x1="146.69" y1="229.20" x2="146.69" y2="232.40" stroke="#000" stroke-width="1.2" />
<line x1="152.19" y1="387.10" x2="152.19" y2="383.90" stroke="#000" stroke-width="1.2" />
<line x1="152.19" y1="229.20" x2="152.19" y2="232.40" stroke="#000" stroke-width="1.2" />
<line x1="157.10" y1="387.10" x2="157.10" y2="381.30" stroke="#000" stroke-width="1.2" />
<line x1="157.10" y1="229.20" x2="157.10" y2="235.00" stroke="#000" stroke-width="1.2" />
<line x1="189.43" y1="387.10" x2="189.43" y2="383.90" stroke="#000" stroke-width="1.2" />
<line x1="189.43" y1="229.20" x2="189.43" y2="232.40" stroke="#000" stroke-width="1.2" />
<line x1="208.34" y1="387.10" x2="208.34" y2="383.90" stroke="#000" stroke-width="1.2" />
<line x1="208.34" y1="229.20" x2="208.34" y2="232.40" stroke="#000" stroke-width="1.2" />
<line x1="49.70" y1="387.10" x2="54.20" y2="387.10" stroke="#000" stroke-width="1.2" />
<line x1="215.20" y1="387.10" x2="210.70" y2="387.10" stroke="#000" stroke-width="1.2" />
<line x1="49.70" y1="363.32" x2="52.00" y2="363.32" stroke="#000" stroke-width="1.2" />
<line x1="215.20" y1="363.32" x2="212.90" y2="363.32" stroke="#000" stroke-width="1.2" />
<line x1="49.70" y1="349.41" x2="52.00" y2="349.41" stroke="#000" stroke-width="1.2" />
<line x1="215.20" y1="349.41" x2="212.90" y2="349.41" stroke="#000" stroke-width="1.2" />
<line x1="49.70" y1="339.54" x2="52.00" y2="339.54" stroke="#000" stroke-width="1.2" />
<line x1="215.20" y1="339.54" x2="212.90" y2="339.54" stroke="#000" stroke-width="1.2" />
<line x1="49.70" y1="331.88" x2="52.00" y2="331.88" stroke="#000" stroke-width="1.2" />
<line x1="215.20" y1="331.88" x2="212.90" y2="331.88" stroke="#000" stroke-width="1.2" />
<line x1="49.70" y1="325.63" x2="52.00" y2="325.63" stroke="#000" stroke-width="1.2" />
<line x1="215.20" y1="325.63" x2="212.90" y2="325.63" stroke="#000" stroke-width="1.2" />
<line x1="49.70" y1="320.34" x2="52.00" y2="320.34" stroke="#000" stroke-width="1.2" />
<line x1="215.20" y1="320.34" x2="212.90" y2="320.34" stroke="#000" stroke-width="1.2" />
<line x1="49.70" y1="315.76" x2="52.00" y2="315.76" stroke="#000" stroke-width="1.2" />
<line x1="215.20" y1="315.76" x2="212.90" y2="315.76" stroke="#000" stroke-width="1.2" />
<line x1="49.70" y1="311.71" x2="52.00" y2="311.71" stroke="#000" stroke-width="1.2" />
<line x1="215.20" y1="311.71" x2="212.90" y2="311.71" stroke="#000" stroke-width="1.2" />
<line x1="49.70" y1="308.10" x2="54.20" y2="308.10" stroke="#000" stroke-width="1.2" />
<line x1="215.20" y1="308.10" x2="210.70" y2="308.10" stroke="#000" stroke-width="1.2" />
<line x1="49.70" y1="284.32" x2="52.00" y2="284.32" stroke="#000" stroke-width="1.2" />
<line x1="215.20" y1="284.32" x2="212.90" y2="284.32" stroke="#000" stroke-width="1.2" />
<line x1="49.70" y1="270.41" x2="52.00" y2="270.41" stroke="#000" stroke-width="1.2" />
<line x1="215.20" y1="270.41" x2="212.90" y2="270.41" stroke="#000" stroke-width="1.2" />
<line x1="49.70" y1="260.54" x2="52.00" y2="260.54" stroke="#000" stroke-width="1.2" />
<line x1="215.20" y1="260.54" x2="212.90" y2="260.54" stroke="#000" stroke-width="1.2" />
<line x1="49.70" y1="252.88" x2="52.00" y2="252.88" stroke="#000" stroke-width="1.2" />
<line x1="215.20" y1="252.88" x2="212.90" y2="252.88" stroke="#000" stroke-width="1.2" />
<line x1="49.70" y1="246.63" x2="52.00" y2="246.63" stroke="#000" stroke-width="1.2" />
<line x1="215.20" y1="246.63" x2="212.90" y2="246.63" stroke="#000" stroke-width="1.2" />
<line x1="49.70" y1="241.34" x2="52.00" y2="241.34" stroke="#000" stroke-width="1.2" />
<line x1="215.20" y1="241.34" x2="212.90" y2="241.34" stroke="#000" stroke-width="1.2" />
<line x1="49.70" y1="236.76" x2="52.00" y2="236.76" stroke="#000" stroke-width="1.2" />
<line x1="215.20" y1="236.76" x2="212.90" y2="236.76" stroke="#000" stroke-width="1.2" />
<line x1="49.70" y1="232.71" x2="52.00" y2="232.71" stroke="#000" stroke-width="1.2" />
<line x1="215.20" y1="232.71" x2="212.90" y2="232.71" stroke="#000" stroke-width="1.2" />
<text x="45.30" y="234.00" font-size="12.5" text-anchor="end" >1000</text>
<text x="45.30" y="312.70" font-size="12.5" text-anchor="end" >100</text>
<text x="45.30" y="390.60" font-size="12.5" text-anchor="end" >10</text>
<text x="47.80" y="404.80" font-size="12.5" text-anchor="middle" >0.01</text>
<text x="155.60" y="404.80" font-size="12.5" text-anchor="middle" >0.1</text>
<text x="134.00" y="420.30" font-size="13.5" text-anchor="middle" >Pump peak power (W)</text>
<text x="0" y="0" font-size="13.5" text-anchor="middle" transform="translate(18.6,306.6) rotate(-90)">CAR</text>
<rect x="137.8" y="241.2" width="7.2" height="8.2" fill="#f00"/>
<line x1="130.80" y1="259.10" x2="151.40" y2="259.10" stroke="#f00" stroke-width="1.5" />
<text x="156.60" y="248.40" font-size="11.7" text-anchor="start" >CAR</text>
<text x="156.60" y="263.60" font-size="11.7" text-anchor="start" >Prediction</text>
<clipPath id="clipD"><rect x="279.2" y="228.9" width="165.60000000000002" height="158.29999999999998"/></clipPath>
<path d="M279.20,382.73 L280.32,382.49 L281.44,382.25 L282.56,382.01 L283.68,381.75 L284.80,381.50 L285.92,381.23 L287.04,380.97 L288.16,380.69 L289.28,380.41 L290.40,380.13 L291.52,379.84 L292.64,379.54 L293.76,379.23 L294.88,378.92 L296.00,378.61 L297.12,378.28 L298.23,377.95 L299.35,377.62 L300.47,377.27 L301.59,376.92 L302.71,376.57 L303.83,376.20 L304.95,375.83 L306.07,375.45 L307.19,375.06 L308.31,374.67 L309.43,374.26 L310.55,373.85 L311.67,373.43 L312.79,373.01 L313.91,372.57 L315.03,372.13 L316.15,371.67 L317.27,371.21 L318.39,370.74 L319.51,370.26 L320.63,369.78 L321.75,369.28 L322.87,368.77 L323.99,368.26 L325.11,367.73 L326.23,367.19 L327.35,366.65 L328.47,366.09 L329.59,365.53 L330.71,364.95 L331.83,364.37 L332.95,363.77 L334.07,363.16 L335.19,362.55 L336.30,361.92 L337.42,361.28 L338.54,360.63 L339.66,359.97 L340.78,359.29 L341.90,358.61 L343.02,357.91 L344.14,357.21 L345.26,356.49 L346.38,355.76 L347.50,355.01 L348.62,354.26 L349.74,353.49 L350.86,352.71 L351.98,351.92 L353.10,351.11 L354.22,350.29 L355.34,349.46 L356.46,348.62 L357.58,347.76 L358.70,346.90 L359.82,346.01 L360.94,345.12 L362.06,344.21 L363.18,343.29 L364.30,342.35 L365.42,341.40 L366.54,340.44 L367.66,339.46 L368.78,338.47 L369.90,337.46 L371.02,336.44 L372.14,335.41 L373.25,334.36 L374.37,333.30 L375.49,332.23 L376.61,331.14 L377.73,330.03 L378.85,328.91 L379.97,327.78 L381.09,326.63 L382.21,325.47 L383.33,324.29 L384.45,323.10 L385.57,321.89 L386.69,320.67 L387.81,319.44 L388.93,318.19 L390.05,316.92 L391.17,315.64 L392.29,314.34 L393.41,313.03 L394.53,311.71 L395.65,310.37 L396.77,309.01 L397.89,307.64 L399.01,306.25 L400.13,304.85 L401.25,303.44 L402.37,302.01 L403.49,300.56 L404.61,299.10 L405.73,297.62 L406.85,296.13 L407.97,294.63 L409.09,293.11 L410.21,291.57 L411.32,290.02 L412.44,288.46 L413.56,286.87 L414.68,285.28 L415.80,283.67 L416.92,282.05 L418.04,280.41 L419.16,278.75 L420.28,277.08 L421.40,275.40 L422.52,273.70 L423.64,271.99 L424.76,270.27 L425.88,268.53 L427.00,266.77 L428.12,265.00 L429.24,263.22 L430.36,261.42 L431.48,259.61 L432.60,257.79 L433.72,255.95 L434.84,254.10 L435.96,252.23 L437.08,250.35 L438.20,248.46 L439.32,246.55 L440.44,244.63 L441.56,242.70 L442.68,240.75 L443.80,238.79 L444.92,236.82 L446.04,234.84" fill="none" stroke="#00f" stroke-width="1.6" stroke-dasharray="3.4 2.1" clip-path="url(#clipD)"/>
<line x1="331.00" y1="294.30" x2="331.00" y2="371.30" stroke="#00f" stroke-width="1.5" />
<line x1="328.80" y1="294.30" x2="333.20" y2="294.30" stroke="#00f" stroke-width="1.5" />
<line x1="328.80" y1="371.30" x2="333.20" y2="371.30" stroke="#00f" stroke-width="1.5" />
<line x1="309.40" y1="321.00" x2="344.20" y2="321.00" stroke="#00f" stroke-width="1.5" />
<line x1="309.40" y1="319.00" x2="309.40" y2="323.00" stroke="#00f" stroke-width="1.5" />
<line x1="344.20" y1="319.00" x2="344.20" y2="323.00" stroke="#00f" stroke-width="1.5" />
<path d="M325.50,321.00 L331.00,314.70 L336.50,321.00 L331.00,327.30 Z" fill="#00f"/>
<line x1="354.70" y1="316.00" x2="354.70" y2="372.20" stroke="#00f" stroke-width="1.5" />
<line x1="352.50" y1="316.00" x2="356.90" y2="316.00" stroke="#00f" stroke-width="1.5" />
<line x1="352.50" y1="372.20" x2="356.90" y2="372.20" stroke="#00f" stroke-width="1.5" />
<line x1="344.80" y1="337.70" x2="361.70" y2="337.70" stroke="#00f" stroke-width="1.5" />
<line x1="344.80" y1="335.70" x2="344.80" y2="339.70" stroke="#00f" stroke-width="1.5" />
<line x1="361.70" y1="335.70" x2="361.70" y2="339.70" stroke="#00f" stroke-width="1.5" />
<path d="M349.20,337.70 L354.70,331.40 L360.20,337.70 L354.70,344.00 Z" fill="#00f"/>
<line x1="366.00" y1="335.90" x2="366.00" y2="391.60" stroke="#00f" stroke-width="1.5" />
<line x1="363.80" y1="335.90" x2="368.20" y2="335.90" stroke="#00f" stroke-width="1.5" />
<line x1="363.80" y1="391.60" x2="368.20" y2="391.60" stroke="#00f" stroke-width="1.5" />
<line x1="361.00" y1="357.60" x2="373.40" y2="357.60" stroke="#00f" stroke-width="1.5" />
<line x1="361.00" y1="355.60" x2="361.00" y2="359.60" stroke="#00f" stroke-width="1.5" />
<line x1="373.40" y1="355.60" x2="373.40" y2="359.60" stroke="#00f" stroke-width="1.5" />
<path d="M360.50,357.60 L366.00,351.30 L371.50,357.60 L366.00,363.90 Z" fill="#00f"/>
<line x1="377.80" y1="316.90" x2="377.80" y2="380.90" stroke="#00f" stroke-width="1.5" />
<line x1="375.60" y1="316.90" x2="380.00" y2="316.90" stroke="#00f" stroke-width="1.5" />
<line x1="375.60" y1="380.90" x2="380.00" y2="380.90" stroke="#00f" stroke-width="1.5" />
<line x1="368.30" y1="340.60" x2="383.60" y2="340.60" stroke="#00f" stroke-width="1.5" />
<line x1="368.30" y1="338.60" x2="368.30" y2="342.60" stroke="#00f" stroke-width="1.5" />
<line x1="383.60" y1="338.60" x2="383.60" y2="342.60" stroke="#00f" stroke-width="1.5" />
<path d="M372.30,340.60 L377.80,334.30 L383.30,340.60 L377.80,346.90 Z" fill="#00f"/>
<line x1="386.50" y1="307.20" x2="386.50" y2="341.80" stroke="#00f" stroke-width="1.5" />
<line x1="384.30" y1="307.20" x2="388.70" y2="307.20" stroke="#00f" stroke-width="1.5" />
<line x1="384.30" y1="341.80" x2="388.70" y2="341.80" stroke="#00f" stroke-width="1.5" />
<line x1="379.70" y1="322.00" x2="396.60" y2="322.00" stroke="#00f" stroke-width="1.5" />
<line x1="379.70" y1="320.00" x2="379.70" y2="324.00" stroke="#00f" stroke-width="1.5" />
<line x1="396.60" y1="320.00" x2="396.60" y2="324.00" stroke="#00f" stroke-width="1.5" />
<path d="M381.00,322.00 L386.50,315.70 L392.00,322.00 L386.50,328.30 Z" fill="#00f"/>
<line x1="402.90" y1="276.60" x2="402.90" y2="302.00" stroke="#00f" stroke-width="1.5" />
<line x1="400.70" y1="276.60" x2="405.10" y2="276.60" stroke="#00f" stroke-width="1.5" />
<line x1="400.70" y1="302.00" x2="405.10" y2="302.00" stroke="#00f" stroke-width="1.5" />
<line x1="397.00" y1="288.50" x2="409.40" y2="288.50" stroke="#00f" stroke-width="1.5" />
<line x1="397.00" y1="286.50" x2="397.00" y2="290.50" stroke="#00f" stroke-width="1.5" />
<line x1="409.40" y1="286.50" x2="409.40" y2="290.50" stroke="#00f" stroke-width="1.5" />
<path d="M397.40,288.50 L402.90,282.20 L408.40,288.50 L402.90,294.80 Z" fill="#00f"/>
<line x1="416.00" y1="269.80" x2="416.00" y2="292.60" stroke="#00f" stroke-width="1.5" />
<line x1="413.80" y1="269.80" x2="418.20" y2="269.80" stroke="#00f" stroke-width="1.5" />
<line x1="413.80" y1="292.60" x2="418.20" y2="292.60" stroke="#00f" stroke-width="1.5" />
<path d="M410.50,280.10 L416.00,273.80 L421.50,280.10 L416.00,286.40 Z" fill="#00f"/>
<line x1="425.50" y1="264.10" x2="425.50" y2="282.50" stroke="#00f" stroke-width="1.5" />
<line x1="423.30" y1="264.10" x2="427.70" y2="264.10" stroke="#00f" stroke-width="1.5" />
<line x1="423.30" y1="282.50" x2="427.70" y2="282.50" stroke="#00f" stroke-width="1.5" />
<path d="M420.00,272.50 L425.50,266.20 L431.00,272.50 L425.50,278.80 Z" fill="#00f"/>
<line x1="439.80" y1="234.50" x2="439.80" y2="246.70" stroke="#00f" stroke-width="1.5" />
<line x1="437.60" y1="234.50" x2="442.00" y2="234.50" stroke="#00f" stroke-width="1.5" />
<line x1="437.60" y1="246.70" x2="442.00" y2="246.70" stroke="#00f" stroke-width="1.5" />
<path d="M434.30,240.70 L439.80,234.40 L445.30,240.70 L439.80,247.00 Z" fill="#00f"/>
<rect x="279.2" y="228.9" width="165.60000000000002" height="158.29999999999998" fill="none" stroke="#000" stroke-width="1.5"/>
<line x1="279.20" y1="387.20" x2="279.20" y2="381.40" stroke="#000" stroke-width="1.2" />
<line x1="279.20" y1="228.90" x2="279.20" y2="234.70" stroke="#000" stroke-width="1.2" />
<line x1="311.47" y1="387.20" x2="311.47" y2="384.00" stroke="#000" stroke-width="1.2" />
<line x1="311.47" y1="228.90" x2="311.47" y2="232.10" stroke="#000" stroke-width="1.2" />
<line x1="330.35" y1="387.20" x2="330.35" y2="384.00" stroke="#000" stroke-width="1.2" />
<line x1="330.35" y1="228.90" x2="330.35" y2="232.10" stroke="#000" stroke-width="1.2" />
<line x1="343.74" y1="387.20" x2="343.74" y2="384.00" stroke="#000" stroke-width="1.2" />
<line x1="343.74" y1="228.90" x2="343.74" y2="232.10" stroke="#000" stroke-width="1.2" />
<line x1="354.13" y1="387.20" x2="354.13" y2="384.00" stroke="#000" stroke-width="1.2" />
<line x1="354.13" y1="228.90" x2="354.13" y2="232.10" stroke="#000" stroke-width="1.2" />
<line x1="362.62" y1="387.20" x2="362.62" y2="384.00" stroke="#000" stroke-width="1.2" />
<line x1="362.62" y1="228.90" x2="362.62" y2="232.10" stroke="#000" stroke-width="1.2" />
<line x1="369.79" y1="387.20" x2="369.79" y2="384.00" stroke="#000" stroke-width="1.2" />
<line x1="369.79" y1="228.90" x2="369.79" y2="232.10" stroke="#000" stroke-width="1.2" />
<line x1="376.01" y1="387.20" x2="376.01" y2="384.00" stroke="#000" stroke-width="1.2" />
<line x1="376.01" y1="228.90" x2="376.01" y2="232.10" stroke="#000" stroke-width="1.2" />
<line x1="381.49" y1="387.20" x2="381.49" y2="384.00" stroke="#000" stroke-width="1.2" />
<line x1="381.49" y1="228.90" x2="381.49" y2="232.10" stroke="#000" stroke-width="1.2" />
<line x1="386.40" y1="387.20" x2="386.40" y2="381.40" stroke="#000" stroke-width="1.2" />
<line x1="386.40" y1="228.90" x2="386.40" y2="234.70" stroke="#000" stroke-width="1.2" />
<line x1="418.67" y1="387.20" x2="418.67" y2="384.00" stroke="#000" stroke-width="1.2" />
<line x1="418.67" y1="228.90" x2="418.67" y2="232.10" stroke="#000" stroke-width="1.2" />
<line x1="437.55" y1="387.20" x2="437.55" y2="384.00" stroke="#000" stroke-width="1.2" />
<line x1="437.55" y1="228.90" x2="437.55" y2="232.10" stroke="#000" stroke-width="1.2" />
<line x1="279.20" y1="387.20" x2="283.70" y2="387.20" stroke="#000" stroke-width="1.2" />
<line x1="444.80" y1="387.20" x2="440.30" y2="387.20" stroke="#000" stroke-width="1.2" />
<line x1="279.20" y1="346.74" x2="281.50" y2="346.74" stroke="#000" stroke-width="1.2" />
<line x1="444.80" y1="346.74" x2="442.50" y2="346.74" stroke="#000" stroke-width="1.2" />
<line x1="279.20" y1="323.07" x2="281.50" y2="323.07" stroke="#000" stroke-width="1.2" />
<line x1="444.80" y1="323.07" x2="442.50" y2="323.07" stroke="#000" stroke-width="1.2" />
<line x1="279.20" y1="306.28" x2="281.50" y2="306.28" stroke="#000" stroke-width="1.2" />
<line x1="444.80" y1="306.28" x2="442.50" y2="306.28" stroke="#000" stroke-width="1.2" />
<line x1="279.20" y1="293.26" x2="281.50" y2="293.26" stroke="#000" stroke-width="1.2" />
<line x1="444.80" y1="293.26" x2="442.50" y2="293.26" stroke="#000" stroke-width="1.2" />
<line x1="279.20" y1="282.62" x2="281.50" y2="282.62" stroke="#000" stroke-width="1.2" />
<line x1="444.80" y1="282.62" x2="442.50" y2="282.62" stroke="#000" stroke-width="1.2" />
<line x1="279.20" y1="273.62" x2="281.50" y2="273.62" stroke="#000" stroke-width="1.2" />
<line x1="444.80" y1="273.62" x2="442.50" y2="273.62" stroke="#000" stroke-width="1.2" />
<line x1="279.20" y1="265.82" x2="281.50" y2="265.82" stroke="#000" stroke-width="1.2" />
<line x1="444.80" y1="265.82" x2="442.50" y2="265.82" stroke="#000" stroke-width="1.2" />
<line x1="279.20" y1="258.95" x2="281.50" y2="258.95" stroke="#000" stroke-width="1.2" />
<line x1="444.80" y1="258.95" x2="442.50" y2="258.95" stroke="#000" stroke-width="1.2" />
<line x1="279.20" y1="252.80" x2="283.70" y2="252.80" stroke="#000" stroke-width="1.2" />
<line x1="444.80" y1="252.80" x2="440.30" y2="252.80" stroke="#000" stroke-width="1.2" />
<text x="271.20" y="255.90" font-size="12.5" text-anchor="end" >0.1</text>
<text x="271.20" y="390.30" font-size="12.5" text-anchor="end" >0.01</text>
<text x="278.00" y="404.50" font-size="12.5" text-anchor="middle" >0.01</text>
<text x="387.00" y="404.50" font-size="12.5" text-anchor="middle" >0.1</text>
<text x="363.90" y="420.30" font-size="13.5" text-anchor="middle" >Pump peak power (W)</text>
<text x="0" y="0" font-size="13.5" text-anchor="middle" transform="translate(256.8,307.2) rotate(-90)">g<tspan font-size="8.3" dy="2.3">H</tspan><tspan font-size="8" dy="-9.3">(2)</tspan><tspan dy="5.6">(0)</tspan></text>
<path d="M317.6,245.2 L323.3,238.8 L329.0,245.2 L323.3,251.6 Z" fill="#00f"/>
<line x1="311.70" y1="259.80" x2="334.80" y2="259.80" stroke="#00f" stroke-width="1.5" stroke-dasharray="3 1.8"/>
<text x="338.4" y="248.5" font-size="11.4">g<tspan font-size="8.3" dy="2.3">H</tspan><tspan font-size="7.8" dy="-8.6">(2)</tspan><tspan dy="6.3">(0)</tspan></text>
<text x="339.60" y="263.60" font-size="11.4" text-anchor="start" >Prediction</text>
</g>
</svg></body></html>
